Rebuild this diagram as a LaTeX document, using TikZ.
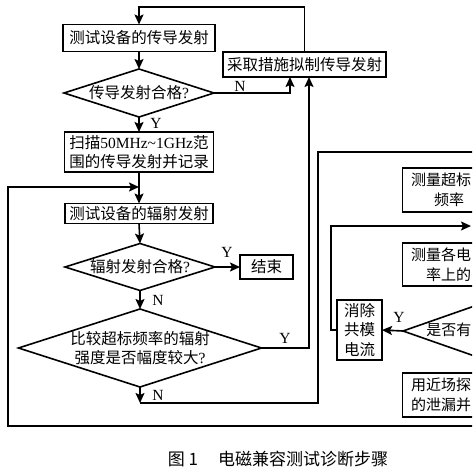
\documentclass[tikz,border=0pt]{standalone}
\usepackage{fontspec}
\setmainfont{Liberation Serif}
\newfontfamily\cjk{Noto Sans CJK SC}
\newcommand\latn[1]{{\rmfamily #1}}
\usetikzlibrary{arrows.meta,shapes.geometric}
\begin{document}
\begin{tikzpicture}[x=1pt,y=-1pt,line width=1.6pt,
  box/.style={draw, rectangle, inner sep=0pt, outer sep=0pt, align=center, font=\cjk\fontsize{15.5}{19.5}\selectfont},
  rbox/.style={box, anchor=west, text width=130pt, align=left, inner xsep=8.5pt, font=\cjk\fontsize{15}{19.5}\selectfont},
  dia/.style={draw, diamond, inner sep=0pt, outer sep=0pt},
  txt/.style={inner sep=0pt, align=center, font=\cjk\fontsize{15.5}{19.5}\selectfont},
  lab/.style={inner sep=0pt, font=\fontsize{15.5}{18}\selectfont},
  arr/.style={-{Stealth[length=10pt,width=9pt,inset=2pt]}}
]
\useasboundingbox (0,0) rectangle (472,473);
\clip (0,0) rectangle (472,473);
\fill[white] (0,0) rectangle (472,473);

% left column
\node[box, minimum width=152pt, minimum height=27pt] (b1) at (139,38) {测试设备的传导发射};
\node[box, minimum width=163pt, minimum height=25pt] (b2) at (304.5,64.5) {采取措施拟制传导发射};
\node[dia, minimum width=150pt, minimum height=48pt] (d1) at (139,93) {};
\node[txt] (t1) at (d1) {传导发射合格\latn{?}};
\node[box, minimum width=149pt, minimum height=40pt] (b3) at (139,152) {扫描\latn{50MHz\textasciitilde 1GHz}范\\围的传导发射并记录};
\node[box, minimum width=148pt, minimum height=20pt] (b4) at (139,213.5) {测试设备的辐射发射};
\node[dia, minimum width=150pt, minimum height=47pt] (d2) at (140,267) {};
\node[txt] (t2) at (d2) {辐射发射合格\latn{?}};
\node[box, minimum width=53pt, minimum height=24pt] (end) at (266.5,267) {结束};
\node[dia, minimum width=243pt, minimum height=78pt] (d3) at (140,348) {};
\node[txt] (t3) at (d3) {比较超标频率的辐射\\强度是否幅度较大\latn{?}};

% right part
\node[rbox, minimum height=44pt] (r1) at (402.5,190) {测量超标\\\hspace*{23pt}频率};
\node[rbox, minimum height=43pt] (r2) at (402.5,264.5) {测量各电\\\hspace*{15pt}率上的};
\node[dia, minimum width=286pt, minimum height=100pt] (rd) at (546,331) {};
\node[txt, anchor=west, font=\cjk\fontsize{15}{19.5}\selectfont] (t4) at (425.5,330) {是否有};
\node[box, minimum width=45pt, minimum height=60pt] (xc) at (359.5,330) {消除\\共模\\电流};
\node[rbox, minimum height=44pt] (r3) at (402.5,395) {用近场探\\的泄漏并};

% coordinates
\coordinate (c0) at (139,7);
\coordinate (n1x) at (290,0);
\coordinate (y1x) at (309,0);
\coordinate (c1) at (140,403);
\coordinate (c2) at (318,152);
\coordinate (c3) at (490,152);
\coordinate (o1) at (490,426);
\coordinate (o2) at (8,426);
\coordinate (o3) at (8,187);
\coordinate (o4) at (139,187);
\coordinate (k1) at (331,330);
\coordinate (k2) at (471,226);

% connectors
\draw[arr] (b2.north) |- (c0) -- (b1.north);
\draw[arr] (b1.south) -- (d1.north);
\draw[arr] (d1.east) -| (b2.south -| n1x);
\draw[arr] (d1.south) -- (b3.north);
\draw[arr] (b3.south) -- (b4.north);
\draw[arr] (o1) -- (o2) -- (o3) -- (o4);
\draw[arr] (b4.south) -- (d2.north);
\draw[arr] (d2.east) -- (end.west);
\draw[arr] (d2.south) -- (d3.north);
\draw[arr] (d3.east) -| (b2.south -| y1x);
\draw[arr] (d3.south) -- (c1);
\draw (c1) -| (c2) -- (c3);
\draw[arr] (rd.west) -- (xc.east);
\draw[arr] (xc.west) -- (k1) |- (k2);

% labels
\node[lab] (lN1) at (240,86) {N};
\node[lab] (lY1) at (156,123) {Y};
\node[lab] (lY2) at (227,252) {Y};
\node[lab] (lN2) at (158,300) {N};
\node[lab] (lY3) at (285,338) {Y};
\node[lab] (lN3) at (158,395) {N};
\node[lab] (lY4) at (399,317) {Y};

% caption
\node[font=\cjk\fontsize{17}{20}\selectfont, anchor=west, inner sep=0pt] (cap) at (167,459) {图 1\hspace{20pt}电磁兼容测试诊断步骤};
\end{tikzpicture}
\end{document}
